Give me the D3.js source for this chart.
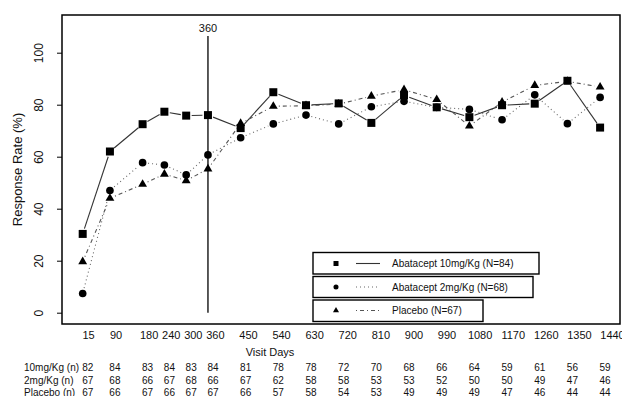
<!DOCTYPE html>
<html>
<head>
<meta charset="utf-8">
<script src="https://cdn.jsdelivr.net/npm/d3@7"></script>
<style>
  body { margin: 0; background: #fff; }
  svg text { font-family: "Liberation Sans", Arial, sans-serif; fill: #111; }
</style>
</head>
<body>
<svg id="chart" width="622" height="396"></svg>
<script>
// visit days and response rates (%)
const days = [15, 90, 180, 240, 300, 360, 450, 540, 630, 720, 810, 900, 990, 1080, 1170, 1260, 1350, 1440];
const rate10 = [30.3, 62, 72.5, 77.3, 75.8, 76, 71, 84.8, 79.8, 80.5, 73, 83.6, 79, 75.2, 79.8, 80.4, 89.2, 71.2];
const rate2 = [7.4, 47, 57.7, 56.8, 53, 60.7, 67.3, 72.6, 76, 72.6, 79.2, 81.3, 79, 78.2, 74.2, 83.8, 72.7, 82.8];
const ratePl = [19.6, 44, 49.4, 53.3, 50.8, 55.3, 72.8, 79.4, 79.6, 80.2, 83.3, 85.8, 82, 71.8, 81, 87.4, 89, 86.8];

// number of patients at each visit
const n10 = [82, 84, 83, 84, 83, 84, 81, 78, 78, 72, 70, 68, 66, 64, 59, 61, 56, 59];
const n2 = [67, 68, 66, 67, 68, 66, 67, 62, 58, 58, 53, 53, 52, 50, 50, 49, 47, 46];
const nPl = [67, 66, 67, 66, 67, 67, 66, 57, 58, 54, 53, 49, 49, 49, 47, 46, 44, 44];

const yTicks = [0, 20, 40, 60, 80, 100];
const refDay = 360;

const series = [
    { label: 'Abatacept 10mg/Kg (N=84)', values: rate10, n: n10, rowLabel: '10mg/Kg (n)', symbol: d3.symbolSquare, size: 64, legendSize: 25, dash: null, color: '#333' },
    { label: 'Abatacept 2mg/Kg (N=68)', values: rate2, n: n2, rowLabel: '2mg/Kg (n)', symbol: d3.symbolCircle, size: 46, legendSize: 20, dash: '1,3', color: '#666' },
    { label: 'Placebo (N=67)', values: ratePl, n: nPl, rowLabel: 'Placebo (n)', symbol: d3.symbolTriangle, size: 34, legendSize: 16, dash: '1,3,4,3', color: '#555' }
];

const svg = d3.select('#chart');

// plot box
const box = { left: 62, top: 15, right: 620, bottom: 324 };

const x = d3.scaleLinear().domain([0, 1440]).range([77.25, 600.1]);
const xLabel = d3.scaleLinear().domain([15, 1440]).range([88, 612]);
const y = d3.scaleLinear().domain([0, 100]).range([312.7, 52.7]);

svg.append('rect')
    .attr('x', box.left).attr('y', box.top)
    .attr('width', box.right - box.left).attr('height', box.bottom - box.top)
    .attr('fill', 'none').attr('stroke', '#000').attr('stroke-width', 1.5);

// Y axis
const yAxis = svg.append('g')
    .attr('transform', `translate(${box.left},0)`)
    .call(d3.axisLeft(y).tickValues(yTicks).tickSize(5).tickFormat(d3.format('d')));
yAxis.select('.domain').remove();
yAxis.selectAll('line').attr('stroke', '#000');
yAxis.selectAll('text')
    .attr('transform', 'rotate(-90)')
    .attr('x', 0).attr('y', -19).attr('dy', '0')
    .attr('text-anchor', 'middle')
    .style('font-size', '12px')
    .attr('fill', '#111');

svg.append('text')
    .attr('transform', `translate(22,${(box.top + box.bottom) / 2}) rotate(-90)`)
    .attr('text-anchor', 'middle')
    .style('font-size', '13px')
    .text('Response Rate (%)');

// X axis labels (no tick marks)
const xAxis = svg.append('g')
    .attr('transform', `translate(0,${box.bottom})`)
    .call(d3.axisBottom(xLabel).tickValues(days).tickSize(0).tickPadding(7).tickFormat(d3.format('d')));
xAxis.select('.domain').remove();
xAxis.selectAll('text').style('font-size', '11px').attr('fill', '#111');

svg.append('text')
    .attr('x', 270).attr('y', 356)
    .attr('text-anchor', 'middle')
    .style('font-size', '11px')
    .text('Visit Days');

// reference line at day 360
svg.append('line')
    .attr('x1', x(refDay)).attr('x2', x(refDay))
    .attr('y1', y(0)).attr('y2', 36)
    .attr('stroke', '#000').attr('stroke-width', 1.3);
svg.append('text')
    .attr('x', x(refDay)).attr('y', 32)
    .attr('text-anchor', 'middle')
    .style('font-size', '11px')
    .text(refDay);

// lines with small gaps around the points
const gap = 5.5;
series.forEach(s => {
    const pts = days.map((d, i) => [x(d), y(s.values[i])]);
    const segs = [];
    for (let i = 0; i < pts.length - 1; i++) {
        const [x1, y1] = pts[i], [x2, y2] = pts[i + 1];
        const len = Math.hypot(x2 - x1, y2 - y1);
        if (len <= gap * 2) continue;
        const ux = (x2 - x1) / len, uy = (y2 - y1) / len;
        segs.push([[x1 + ux * gap, y1 + uy * gap], [x2 - ux * gap, y2 - uy * gap]]);
    }
    svg.append('g').selectAll('line')
        .data(segs)
        .enter()
        .append('line')
        .attr('x1', d => d[0][0]).attr('y1', d => d[0][1])
        .attr('x2', d => d[1][0]).attr('y2', d => d[1][1])
        .attr('stroke', s.color)
        .attr('stroke-width', 1.1)
        .attr('stroke-dasharray', s.dash);
});

// markers
series.forEach(s => {
    svg.append('g').selectAll('path')
        .data(days)
        .enter()
        .append('path')
        .attr('transform', (d, i) => `translate(${x(d)},${y(s.values[i])})`)
        .attr('d', d3.symbol().type(s.symbol).size(s.size))
        .attr('fill', '#000');
});

// legend boxes
const legendBoxes = [
    { x: 313, y: 252.5, w: 226, h: 21.5, ty: 263.5 },
    { x: 313, y: 276.5, w: 220, h: 21, ty: 287 },
    { x: 313, y: 300, w: 170, h: 21.5, ty: 310.5 }
];
series.forEach((s, i) => {
    const b = legendBoxes[i];
    const g = svg.append('g');
    g.append('rect')
        .attr('x', b.x).attr('y', b.y).attr('width', b.w).attr('height', b.h)
        .attr('fill', '#fff').attr('stroke', '#000').attr('stroke-width', 1.4);
    g.append('path')
        .attr('transform', `translate(336,${b.ty})`)
        .attr('d', d3.symbol().type(s.symbol).size(s.legendSize))
        .attr('fill', '#000');
    g.append('line')
        .attr('x1', 356).attr('x2', 380)
        .attr('y1', b.ty).attr('y2', b.ty)
        .attr('stroke', s.color).attr('stroke-width', 1.1)
        .attr('stroke-dasharray', s.dash);
    g.append('text')
        .attr('x', 392).attr('y', b.ty).attr('dy', '0.35em')
        .style('font-size', '10px')
        .text(s.label);
});

// numbers-at-risk table
const rowY = [371, 383.5, 396];
series.forEach((s, i) => {
    svg.append('text')
        .attr('x', 24).attr('y', rowY[i])
        .style('font-size', '10px')
        .text(s.rowLabel);
    svg.append('g').selectAll('text')
        .data(days)
        .enter()
        .append('text')
        .attr('x', d => x(d) + 5)
        .attr('y', rowY[i])
        .attr('text-anchor', 'middle')
        .style('font-size', '10px')
        .text((d, j) => s.n[j]);
});
</script>
</body>
</html>
